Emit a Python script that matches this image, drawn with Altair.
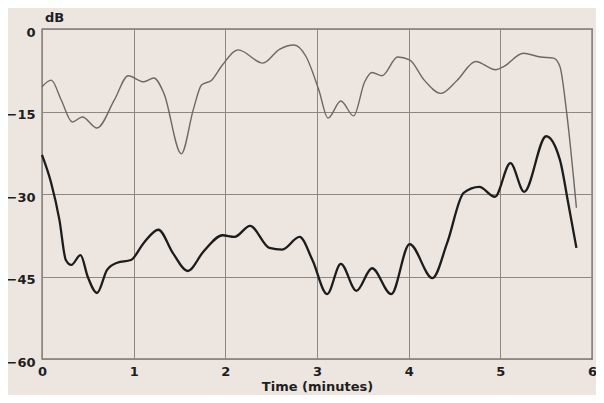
import altair as alt
import pandas as pd

# Upper (thin) trace
upper_t = [0, 0.1, 0.21, 0.33, 0.44, 0.6, 0.79, 0.94, 1.11, 1.22, 1.33, 1.52, 1.65, 1.74,
           1.85, 1.97, 2.14, 2.41, 2.59, 2.75, 2.88, 3.02, 3.12, 3.26, 3.4, 3.52, 3.6, 3.71,
           3.88, 4.01, 4.17, 4.35, 4.53, 4.73, 4.95, 5.04, 5.25, 5.44, 5.58, 5.65, 5.72, 5.83]
upper_db = [-10.5, -9.3, -12.9, -16.9, -16.0, -18.0, -12.9, -8.5, -9.6, -8.9, -11.7, -22.7,
            -14.7, -10.2, -9.3, -6.5, -3.8, -6.2, -3.7, -2.9, -5.0, -11.1, -16.2, -13.1,
            -15.8, -9.6, -7.9, -8.5, -5.1, -5.6, -9.3, -11.7, -9.3, -5.9, -7.4, -6.8, -4.4,
            -5.1, -5.3, -6.8, -14.7, -32.5]

# Lower (thick) trace
lower_t = [0, 0.1, 0.19, 0.26, 0.32, 0.42, 0.5, 0.6, 0.71, 0.82, 0.97, 1.11, 1.27, 1.43,
           1.59, 1.76, 1.97, 2.1, 2.27, 2.48, 2.62, 2.81, 2.95, 3.11, 3.26, 3.43, 3.6, 3.81,
           4.01, 4.26, 4.42, 4.6, 4.77, 4.94, 5.11, 5.26, 5.5, 5.65, 5.74, 5.83]
lower_db = [-22.9, -28.0, -34.7, -42.0, -42.9, -41.1, -45.1, -48.0, -43.8, -42.5, -42.0,
            -38.9, -36.5, -40.8, -44.0, -40.5, -37.5, -37.8, -35.8, -39.8, -40.1, -37.8,
            -42.0, -48.2, -42.7, -47.6, -43.5, -48.2, -39.1, -45.3, -38.9, -29.8, -28.7,
            -30.5, -24.4, -29.6, -19.5, -23.8, -31.6, -39.8]

x_ticks = [0, 1, 2, 3, 4, 5, 6]
y_ticks = [0, -15, -30, -45, -60]

upper = pd.DataFrame({"t": upper_t, "db": upper_db})
lower = pd.DataFrame({"t": lower_t, "db": lower_db})

FONT = "DejaVu Sans"

x_enc = alt.X("t:Q",
              scale=alt.Scale(domain=[0, 6], nice=False, zero=False),
              axis=alt.Axis(values=x_ticks, title="Time (minutes)", grid=True,
                            gridColor="#8d8681", gridWidth=1, gridOpacity=1,
                            domain=False, ticks=False, labelPadding=6,
                            labelFont=FONT, labelFontSize=13, labelFontWeight="bold",
                            labelColor="#1e1e1e", titleFont=FONT, titleFontSize=13,
                            titleFontWeight="bold", titleColor="#1e1e1e", titlePadding=2,
                            labelFlush=False))
y_enc = alt.Y("db:Q",
              scale=alt.Scale(domain=[-60, 0], nice=False, zero=False),
              axis=alt.Axis(values=y_ticks, title="dB", grid=True,
                            gridColor="#8d8681", gridWidth=1, gridOpacity=1,
                            domain=False, ticks=False, labelPadding=7, labelOffset=3,
                            labelFont=FONT, labelFontSize=13, labelFontWeight="bold",
                            labelColor="#1e1e1e", titleFont=FONT, titleFontSize=13,
                            titleFontWeight="bold", titleColor="#1e1e1e", titleAngle=0,
                            titleX=12, titleY=-12, titleAlign="center",
                            titleBaseline="middle", labelFlush=False))

upper_line = alt.Chart(upper).mark_line(
    interpolate="monotone", color="#6c6866", strokeWidth=1.4
).encode(x=x_enc, y=y_enc)

lower_line = alt.Chart(lower).mark_line(
    interpolate="monotone", color="#1c1c1c", strokeWidth=2.3
).encode(x=x_enc, y=y_enc)

chart = alt.layer(upper_line, lower_line).properties(
    width=550, height=330,
    autosize=alt.AutoSizeParams(type="none"),
    padding={"left": 34, "top": 21, "right": 4, "bottom": 36},
    background="#ece5e0",
).configure_view(stroke="#4a4644", strokeWidth=1.3, fill="#ece5e0")

chart.save("out.html", embed_options={"renderer": "svg", "actions": False})
